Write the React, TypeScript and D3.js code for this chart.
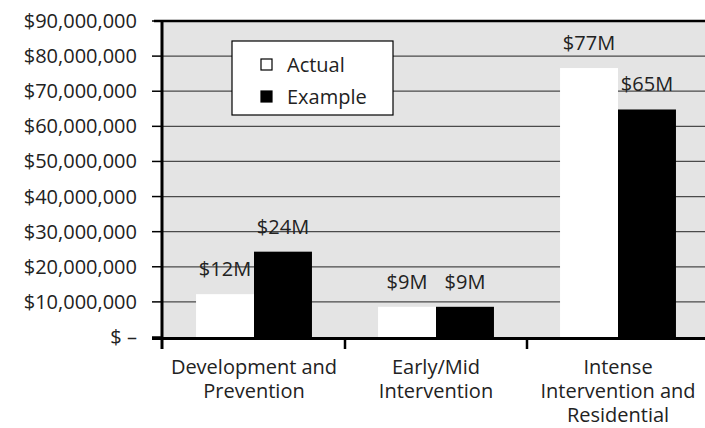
import React from "react";
import * as d3 from "d3";

const categories = ["Development and Prevention", "Early/Mid Intervention", "Intense Intervention and Residential"];
const categoryLines = [["Development and", "Prevention"], ["Early/Mid", "Intervention"], ["Intense", "Intervention and", "Residential"]];
const seriesNames = ["Actual", "Example"];
const actualValues = [12.2e6, 8.6e6, 76.6e6];
const exampleValues = [24.3e6, 8.6e6, 64.8e6];
const yTicks = [0, 10e6, 20e6, 30e6, 40e6, 50e6, 60e6, 70e6, 80e6, 90e6];

const W = 705;
const H = 428;
const FONT = "'Open Sans', sans-serif";
const seriesFill = ["#ffffff", "#000000"];

export default function App() {
  const axisX = 162;
  const plotRight = 705;
  const y = d3.scaleLinear().domain([0, 90e6]).range([337, 21]);
  const x0 = d3.scaleBand<string>().domain(categories).range([163, 709]).paddingInner(0).paddingOuter(0);
  const x1 = d3.scaleBand<string>().domain(seriesNames).range([0, x0.bandwidth()]).paddingInner(0).paddingOuter(0.57);
  const seriesValues = [actualValues, exampleValues];
  const fmt = d3.format(",");
  const tickLabel = (v: number) => (v === 0 ? "$ \u2013" : "$" + fmt(v));
  const valueLabel = (v: number) => "$" + Math.round(v / 1e6) + "M";
  const textColor = "#222";

  return (
    <svg width={W} height={H} style={{ position: "absolute", left: 0, top: 0, background: "#fff" }} fontFamily={FONT}>
      <rect x={axisX} y={y(90e6)} width={plotRight - axisX} height={y(0) - y(90e6)} fill="#e4e4e4" />
      {yTicks.filter((t) => t > 0 && t < 90e6).map((t) => (
        <line key={"g" + t} x1={axisX} x2={plotRight} y1={y(t)} y2={y(t)} stroke="#4a4a4a" strokeWidth={1.2} />
      ))}
      <line x1={axisX - 8} x2={plotRight} y1={y(90e6)} y2={y(90e6)} stroke="#000" strokeWidth={2.5} />
      {/* bars */}
      {categories.map((c, i) =>
        seriesNames.map((s, j) => {
          const v = seriesValues[j][i];
          const bx = (x0(c) as number) + (x1(s) as number);
          return (
            <rect key={c + s} x={bx} y={y(v)} width={x1.bandwidth()} height={y(0) - y(v)} fill={seriesFill[j]} />
          );
        })
      )}
      {/* value labels */}
      {categories.map((c, i) =>
        seriesNames.map((s, j) => {
          const v = seriesValues[j][i];
          const cx = (x0(c) as number) + (x1(s) as number) + x1.bandwidth() / 2;
          return (
            <text key={"l" + c + s} x={cx} y={y(v) - 18} textAnchor="middle" fontSize={20} fill={textColor}>
              {valueLabel(v)}
            </text>
          );
        })
      )}
      {/* legend */}
      <g>
        <rect x={232} y={41} width={161} height={74} fill="#fff" stroke="#000" strokeWidth={1.2} />
        {seriesNames.map((s, j) => (
          <g key={"lg" + s} transform={`translate(260, ${65 + j * 32})`}>
            <rect x={1} y={-6} width={11} height={11} fill={seriesFill[j]} stroke="#000" strokeWidth={1.2} />
            <text x={27} y={0} dy="0.35em" fontSize={20} fill={textColor}>{s}</text>
          </g>
        ))}
      </g>
      {/* y axis */}
      <line x1={axisX} x2={axisX} y1={y(90e6) - 1} y2={349} stroke="#000" strokeWidth={3} />
      {yTicks.map((t) => (
        <g key={"t" + t}>
          <line x1={axisX - 10} x2={axisX} y1={y(t)} y2={y(t)} stroke="#000" strokeWidth={1.5} />
          <text x={137} y={y(t)} dy="0.35em" textAnchor="end" fontSize={20} fill={textColor}>
            {tickLabel(t)}
          </text>
        </g>
      ))}
      {/* x axis */}
      <line x1={axisX - 10} x2={plotRight} y1={338.5} y2={338.5} stroke="#000" strokeWidth={3} />
      {categories.slice(1).map((c) => (
        <line key={"xt" + c} x1={x0(c) as number} x2={x0(c) as number} y1={338} y2={349} stroke="#000" strokeWidth={2.5} />
      ))}
      {categories.map((c, i) => (
        <text key={"c" + c} x={(x0(c) as number) + x0.bandwidth() / 2} y={374} textAnchor="middle" fontSize={20} fill={textColor}>
          {categoryLines[i].map((ln, k) => (
            <tspan key={k} x={(x0(c) as number) + x0.bandwidth() / 2} y={374 + k * 24}>{ln}</tspan>
          ))}
        </text>
      ))}
    </svg>
  );
}
